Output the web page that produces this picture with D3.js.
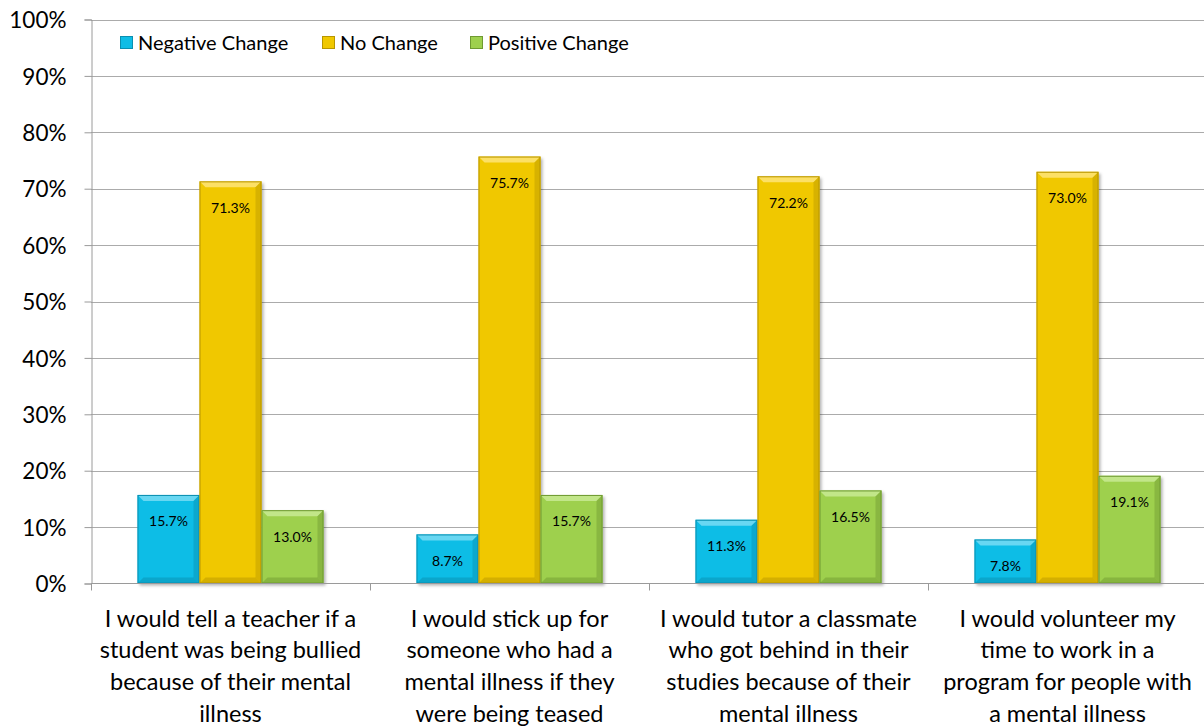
<!DOCTYPE html>
<html><head><meta charset="utf-8">
<script src="https://cdn.jsdelivr.net/npm/d3@7"></script>
<style>body{margin:0;background:#fff}svg{display:block}text{font-family:Lato,"Open Sans",sans-serif;fill:#000}</style>
</head><body><svg id="c" width="1204" height="728"></svg>
<script>
const categories = [
  ["I would tell a teacher if a","student was being bullied","because of their mental","illness"],
  ["I would stick up for","someone who had a","mental illness if they","were being teased"],
  ["I would tutor a classmate","who got behind in their","studies because of their","mental illness"],
  ["I would volunteer my","time to work in a","program for people with","a mental illness"]
];
const seriesNames = ["Negative Change","No Change","Positive Change"];
const negative = [15.7, 8.7, 11.3, 7.8];
const noChange = [71.3, 75.7, 72.2, 73.0];
const positive = [13.0, 15.7, 16.5, 19.1];
const yTicks = [0,10,20,30,40,50,60,70,80,90,100];
const colors = ["#0EBDE6","#F0C800","#9ED04E"];
const darks = ["#0A8FB0","#B89600","#6F9A32"];
const lights = ["#7FDDF5","#FFE680","#CBEB98"];

const series = [negative, noChange, positive];
const svg = d3.select("#c");
const x = d3.scaleBand().domain(d3.range(categories.length)).range([91,1207]).padding(0);
const xs = d3.scaleBand().domain(d3.range(3)).range([0,x.bandwidth()]).paddingInner(0).paddingOuter(0.75);
const y = d3.scaleLinear().domain([0,100]).range([583.5,19.5]);

// gridlines
svg.append("g").selectAll("line").data(yTicks.slice(1)).join("line")
  .attr("x1",91).attr("x2",1204).attr("y1",d=>Math.round(y(d))+0.5).attr("y2",d=>Math.round(y(d))+0.5)
  .attr("stroke","#ABABAB").attr("stroke-width",1);

// y axis
const yAx = svg.append("g").attr("transform","translate(91.5,0)")
  .call(d3.axisLeft(y).tickValues(yTicks).tickFormat(d=>d+"%").tickSize(7).tickPadding(18));
yAx.selectAll("path,line").attr("stroke","#9A9A9A");
yAx.selectAll("text").style("font-size","22.5px").style("font-family","Lato,sans-serif").attr("dy","0.36em");

// bars
const defs = svg.append("defs");
const f = defs.append("filter").attr("id","sh").attr("x","-10%").attr("y","-10%").attr("width","130%").attr("height","130%");
f.append("feDropShadow").attr("dx",2).attr("dy",2).attr("stdDeviation",1.5).attr("flood-color","#000").attr("flood-opacity",0.3);

const bars = [];
categories.forEach((c,i)=>series.forEach((s,j)=>bars.push({i,j,v:s[i]})));
const bg = svg.append("g");
bars.forEach(b=>{
  const x0 = x(b.i)+xs(b.j), w = xs.bandwidth(), y0 = y(b.v), h = y(0)-y0, bv = 6;
  const g = bg.append("g");
  g.append("rect").attr("x",x0).attr("y",y0).attr("width",w).attr("height",h)
    .attr("fill",colors[b.j]).attr("filter","url(#sh)");
  const P = pts=>pts.map(p=>p.join(",")).join(" ");
  g.append("polygon").attr("points",P([[x0,y0],[x0+w,y0],[x0+w-bv,y0+bv],[x0+bv,y0+bv]])).attr("fill",lights[b.j]).attr("opacity",0.8);
  g.append("polygon").attr("points",P([[x0+w,y0],[x0+w-bv,y0+bv],[x0+w-bv,y0+h-bv],[x0+w,y0+h]])).attr("fill",darks[b.j]).attr("opacity",0.45);
  g.append("polygon").attr("points",P([[x0,y0+h],[x0+bv,y0+h-bv],[x0+w-bv,y0+h-bv],[x0+w,y0+h]])).attr("fill",darks[b.j]).attr("opacity",0.5);
  g.append("rect").attr("x",x0+0.5).attr("y",y0+0.5).attr("width",w-1).attr("height",h-1)
    .attr("fill","none").attr("stroke",darks[b.j]).attr("stroke-width",1);
  g.append("text").attr("x",x0+w/2).attr("y",y0+31.5).attr("text-anchor","middle")
    .style("font-size","14px").text(b.v.toFixed(1)+"%");
});

// x axis
const xAx = svg.append("g").attr("transform","translate(0,583.5)");
xAx.append("line").attr("x1",91).attr("x2",1204).attr("stroke","#9A9A9A");
xAx.selectAll("line.t").data(d3.range(categories.length)).join("line").attr("class","t")
  .attr("x1",d=>Math.round(x(d))+0.5).attr("x2",d=>Math.round(x(d))+0.5).attr("y1",0).attr("y2",7).attr("stroke","#9A9A9A");
xAx.selectAll("text").data(categories).join("text")
  .attr("text-anchor","middle").attr("x",(d,i)=>x(i)+x.bandwidth()/2)
  .style("font-size","23.5px")
  .selectAll("tspan").data(d=>d).join("tspan")
  .attr("x",function(){return d3.select(this.parentNode).attr("x");})
  .attr("y",(d,k)=>43+k*31.7).text(d=>d);

// legend
const legX = [120, 322, 470];
const lg = svg.append("g");
seriesNames.forEach((n,j)=>{
  lg.append("rect").attr("x",legX[j]+0.5).attr("y",36.5).attr("width",12).attr("height",12).attr("fill",colors[j]).attr("stroke",darks[j]).attr("stroke-width",1);
  lg.append("text").attr("x",legX[j]+18).attr("y",50).style("font-size","20px").text(n);
});
</script></body></html>
